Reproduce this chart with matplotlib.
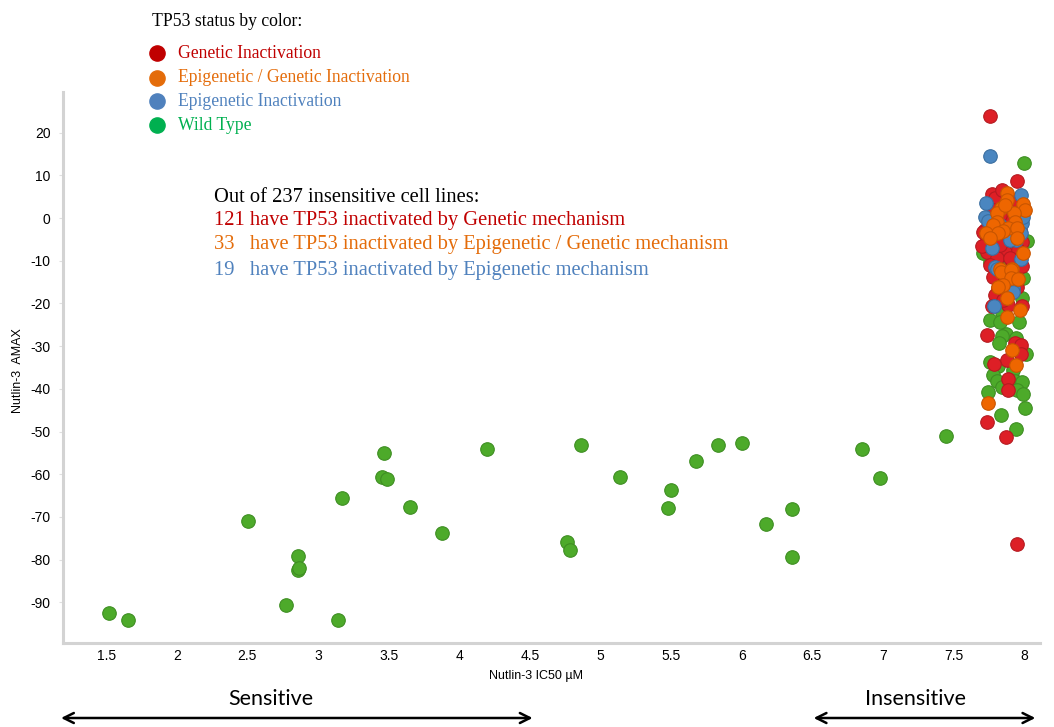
import numpy as np
import matplotlib
matplotlib.use("Agg")
import matplotlib.pyplot as plt
import matplotlib.transforms as mtransforms

plt.rcParams["axes.unicode_minus"] = False

# -----------------------------------------------------
# Data (Nutlin-3 IC50 in uM, AMAX)
# -----------------------------------------------------

genetic_x = [7.759, 7.950, 7.773, 7.795, 7.880, 7.738, 7.795, 7.880, 7.986, 7.738,
             7.865, 7.809, 7.915, 7.986, 7.780, 7.816, 7.950, 7.795, 7.887, 7.773,
             7.986, 7.738, 7.936, 7.979, 7.979, 7.880, 7.788, 7.887, 7.887, 7.738,
             7.873, 7.950, 7.759, 7.830, 7.915, 7.724, 7.958, 7.830, 7.759, 7.865,
             7.943, 7.844, 7.901, 7.724, 7.972, 7.780, 7.851, 7.703, 7.710]
genetic_y = [23.9, 8.7, 5.6, 4.7, 0.0, -5.2, -5.6, -5.6, -5.6, -8.0,
             -8.0, -9.4, -10.1, -11.2, -13.8, -16.4, -16.2, -18.0, -20.4, -20.6,
             -20.6, -27.4, -29.3, -29.7, -31.8, -33.3, -34.2, -37.7, -40.3, -47.8,
             -51.3, -76.3, -1.6, 0.7, -3.3, -2.8, -7.5, -6.3, -11.0, -14.5,
             4.2, 6.6, -9.4, -6.3, -2.8, 1.9, -19.2, -6.6, -3.3]

epi_gen_x = [7.880, 7.880, 7.993, 8.007, 7.837, 7.809, 7.929, 7.809, 7.936, 7.780,
             7.887, 7.950, 7.851, 7.731, 7.816, 7.950, 7.993, 7.830, 7.915, 7.837,
             7.908, 7.908, 7.958, 7.851, 7.816, 7.880, 7.972, 7.880, 7.915, 7.943,
             7.745, 7.865, 7.759]
epi_gen_y = [5.9, 4.2, 3.3, 1.9, 2.3, 1.2, 1.2, -0.9, -0.9, -1.6,
             -2.3, -2.3, -3.0, -3.5, -3.5, -4.7, -8.2, -11.9, -11.9, -12.6,
             -12.2, -14.1, -14.3, -15.7, -16.2, -18.7, -21.5, -23.2, -30.9, -34.4,
             -43.3, 3.0, -4.7]

epigenetic_x = [7.759, 7.979, 7.731, 7.724, 7.745, 7.986, 7.979, 7.943, 7.979, 7.795,
                7.809, 7.922, 7.922, 7.788, 7.958, 7.773, 7.901, 7.830, 7.993]
epigenetic_y = [14.5, 5.4, 3.5, 0.2, -0.7, -1.2, -3.5, -5.2, -9.6, -11.5,
                -11.9, -16.4, -17.3, -20.6, 0.7, -7.0, -5.2, -1.6, 0.2]

wild_x = [1.52, 1.655, 2.505, 2.77, 2.86, 2.855, 2.866, 3.14, 3.17, 3.47,
          3.455, 3.49, 3.65, 3.88, 4.20, 4.76, 4.785, 4.86, 5.14, 5.48,
          5.50, 5.68, 5.83, 6.00, 6.17, 6.36, 6.36, 6.85, 6.98, 7.448,
          8.000, 8.021, 7.759, 7.865, 7.993, 7.986, 7.844, 7.759, 7.830, 7.965,
          7.873, 7.844, 7.823, 7.943, 8.014, 7.759, 7.816, 7.922, 7.780, 7.809,
          7.936, 7.986, 7.844, 7.950, 7.745, 7.993, 8.007, 7.837, 7.943, 7.710]
wild_y = [-92.5, -94.1, -71.0, -90.6, -79.2, -82.4, -82.0, -94.1, -65.6, -55.0,
          -60.7, -61.1, -67.7, -73.8, -54.1, -75.9, -77.8, -53.2, -60.7, -67.9,
          -63.7, -56.9, -53.2, -52.7, -71.7, -68.1, -79.4, -54.1, -60.9, -51.1,
          12.9, -5.4, -10.3, -9.8, -14.1, -18.7, -22.0, -23.9, -24.4, -24.4,
          -27.2, -27.6, -29.3, -28.1, -31.9, -33.7, -34.7, -35.6, -36.8, -38.2,
          -38.2, -38.4, -39.6, -40.3, -40.7, -41.2, -44.5, -46.1, -49.4, -8.2]

legend_labels = ["Genetic Inactivation", "Epigenetic / Genetic Inactivation",
                 "Epigenetic Inactivation", "Wild Type"]
legend_colors = ["#C00000", "#E46C0A", "#4F81BD", "#00B050"]

summary_lines = ["Out of 237 insensitive cell lines:",
                 "121 have TP53 inactivated by Genetic mechanism",
                 "33   have TP53 inactivated by Epigenetic / Genetic mechanism",
                 "19   have TP53 inactivated by Epigenetic mechanism"]
summary_colors = ["#000000", "#C00000", "#E46C0A", "#4F81BD"]

xticks = [1.5, 2, 2.5, 3, 3.5, 4, 4.5, 5, 5.5, 6, 6.5, 7, 7.5, 8]
yticks = [20, 10, 0, -10, -20, -30, -40, -50, -60, -70, -80, -90]

# -----------------------------------------------------
# Figure
# -----------------------------------------------------

W, H = 1054, 727
fig = plt.figure(figsize=(W / 100, H / 100), dpi=100)
ax = fig.add_axes([63 / W, 1 - 643 / H, (1040 - 63) / W, (643 - 92) / H])

dot = 95
ax.scatter(wild_x, wild_y, s=dot, color="#4DAA2A", edgecolor="#3E8E22", linewidth=0.8, zorder=2)
ax.scatter(genetic_x, genetic_y, s=dot, color="#DD1F26", edgecolor="#B51A20", linewidth=0.8, zorder=3)
ax.scatter(epigenetic_x, epigenetic_y, s=dot, color="#4A86C0", edgecolor="#3A6EA0", linewidth=0.8, zorder=4)
ax.scatter(epi_gen_x, epi_gen_y, s=dot, color="#EE6600", edgecolor="#C85500", linewidth=0.8, zorder=5)

ax.set_xlim(1.194, 8.113)
ax.set_ylim(-99.5, 29.5)
ax.set_xticks(xticks)
ax.set_xticklabels([f"{t:g}" for t in xticks])
ax.set_yticks(yticks)

for side in ["top", "right"]:
    ax.spines[side].set_visible(False)
for side in ["left", "bottom"]:
    ax.spines[side].set_color("#D3D3D3")
    ax.spines[side].set_linewidth(2.2)

ax.tick_params(axis="both", length=3, color="#E0E0E0", labelsize=10,
               labelfontfamily="Liberation Sans")
ax.tick_params(axis="x", length=0, pad=4)
ax.tick_params(axis="y", pad=6)

fig.text(536 / W, 1 - 676 / H, "Nutlin-3 IC50 µM", ha="center", va="center",
         fontsize=9, family="Liberation Sans")
fig.text(18 / W, 1 - 371 / H, "Nutlin-3  AMAX", ha="center", va="center",
         rotation=90, fontsize=9, family="Liberation Sans")

# -----------------------------------------------------
# Legend (top left)
# -----------------------------------------------------

fig.text(152 / W, 1 - 21 / H, "TP53 status by color:", ha="left", va="center",
         fontsize=12.7, family="Liberation Serif")
legend_y = [53, 78, 101, 125]
for lab, col, yy in zip(legend_labels, legend_colors, legend_y):
    ax.scatter([157 / W], [1 - yy / H], s=120, color=col, transform=fig.transFigure,
               clip_on=False, zorder=6)
    fig.text(178 / W, 1 - yy / H, lab, color=col, ha="left", va="center",
             fontsize=12.7, family="Liberation Serif")

# -----------------------------------------------------
# Summary text
# -----------------------------------------------------

summary_y = [197, 220, 245, 270]
for line, col, yy in zip(summary_lines, summary_colors, summary_y):
    fig.text(214 / W, 1 - yy / H, line, color=col, ha="left", va="center",
             fontsize=14.8, family="Liberation Serif")

# -----------------------------------------------------
# Sensitive / Insensitive arrows
# -----------------------------------------------------

trans = mtransforms.blended_transform_factory(ax.transData, fig.transFigure)
arrow_y = 1 - 718 / H
for x0, x1, xt, label in [(1.18, 4.52, 2.667, "Sensitive"), (6.51, 8.08, 7.228, "Insensitive")]:
    ax.annotate("", xy=(x1, arrow_y), xytext=(x0, arrow_y), xycoords=trans,
                textcoords=trans, annotation_clip=False,
                arrowprops=dict(arrowstyle="<->", color="black", lw=1.8,
                                mutation_scale=18, shrinkA=0, shrinkB=0))
    ax.text(xt, 1 - 699 / H, label, transform=trans, ha="center", va="center",
            fontsize=15.5, family="Lato")

fig.savefig("out.png", dpi=100)
